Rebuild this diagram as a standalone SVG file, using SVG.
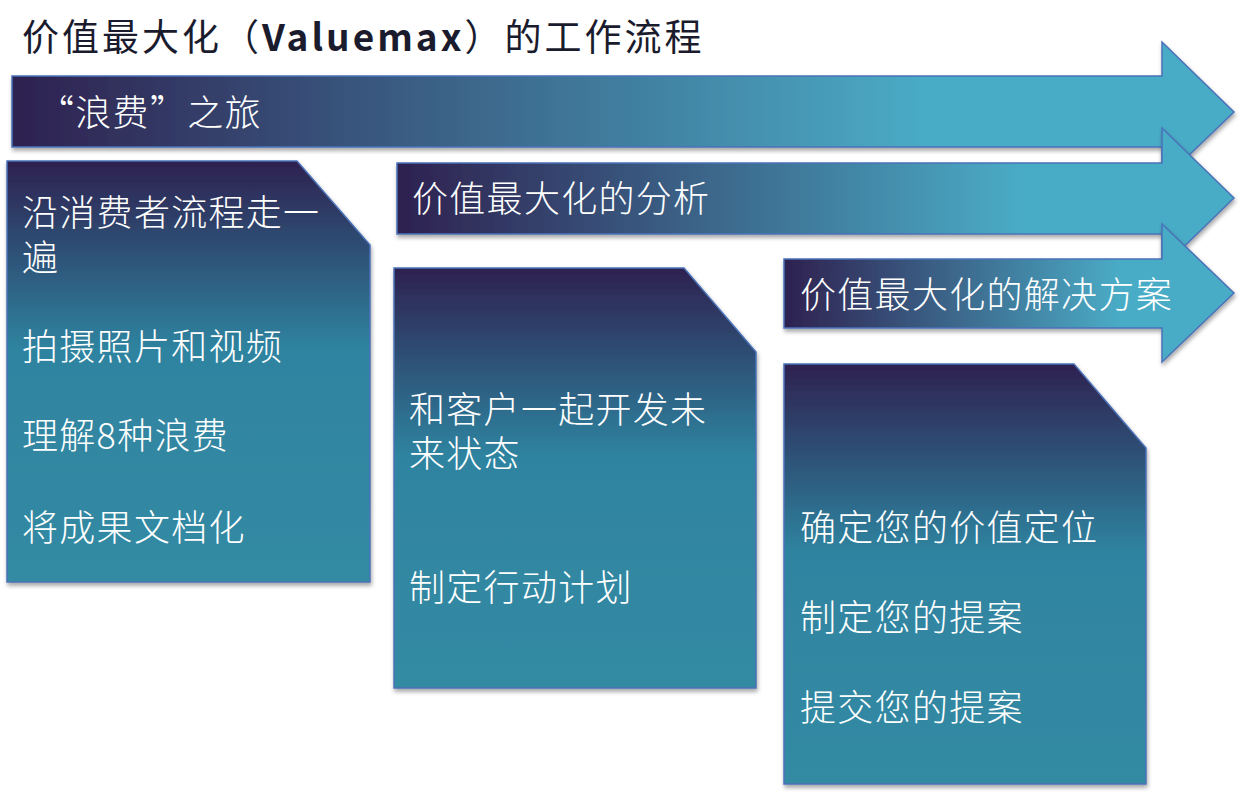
<svg xmlns="http://www.w3.org/2000/svg" width="1241" height="795" viewBox="0 0 1241 795">
<defs>
<linearGradient id="ga" x1="0" y1="0" x2="1" y2="0"><stop offset="0" stop-color="#2e2150"/><stop offset="0.75" stop-color="#4aacc6"/><stop offset="1" stop-color="#4aacc6"/></linearGradient>
<linearGradient id="gb" x1="0" y1="0" x2="0" y2="1"><stop offset="0" stop-color="#2e2150"/><stop offset="0.45" stop-color="#2f84a0"/><stop offset="1" stop-color="#338aa3"/></linearGradient>
<filter id="sh" x="-5%" y="-5%" width="110%" height="115%"><feDropShadow dx="1" dy="3" stdDeviation="2" flood-color="#000" flood-opacity="0.35"/></filter>
</defs>
<style>
.ar{fill:url(#ga);stroke:#4a72b8;stroke-width:1.5;filter:url(#sh)}
.bx{fill:url(#gb);stroke:#4a72b8;stroke-width:1.5;filter:url(#sh)}
text{font-family:"Noto Sans CJK SC","Liberation Sans",sans-serif;fill:#fff;font-size:36px;font-weight:300;letter-spacing:1.3px}
.t{fill:#1b1b2e;font-size:37px;font-weight:400;letter-spacing:3px}
</style>
<text class="t" x="22" y="51">价值最大化（<tspan font-weight="bold">Valuemax</tspan>）的工作流程</text>
<g id="connectors"></g>
<g id="arrow1"><path class="ar" d="M12,76 H1162 V42 L1234,112 L1162,181 V147 H12 Z"/><text x="38" y="126">“浪费”之旅</text></g>
<g id="arrow2"><path class="ar" d="M397,163 H1162 V128 L1234,198 L1162,268 V234 H397 Z"/><text x="412" y="212">价值最大化的分析</text></g>
<g id="arrow3"><path class="ar" d="M784,259 H1162 V224 L1234,293 L1162,362 V328 H784 Z"/><text x="800" y="308">价值最大化的解决方案</text></g>
<g id="box1"><path class="bx" d="M7,161 H297 L370,245 V582 H7 Z"/>
<text x="22" y="226">沿消费者流程走一</text><text x="22" y="271">遍</text><text x="22" y="360">拍摄照片和视频</text><text x="22" y="449">理解8种浪费</text><text x="22" y="541">将成果文档化</text></g>
<g id="box2"><path class="bx" d="M394,268 H684 L756,352 V688 H394 Z"/>
<text x="409" y="423">和客户一起开发未</text><text x="409" y="467">来状态</text><text x="409" y="601">制定行动计划</text></g>
<g id="box3"><path class="bx" d="M784,364 H1074 L1146,448 V784 H784 Z"/>
<text x="800" y="541">确定您的价值定位</text><text x="800" y="631">制定您的提案</text><text x="800" y="721">提交您的提案</text></g>
</svg>
